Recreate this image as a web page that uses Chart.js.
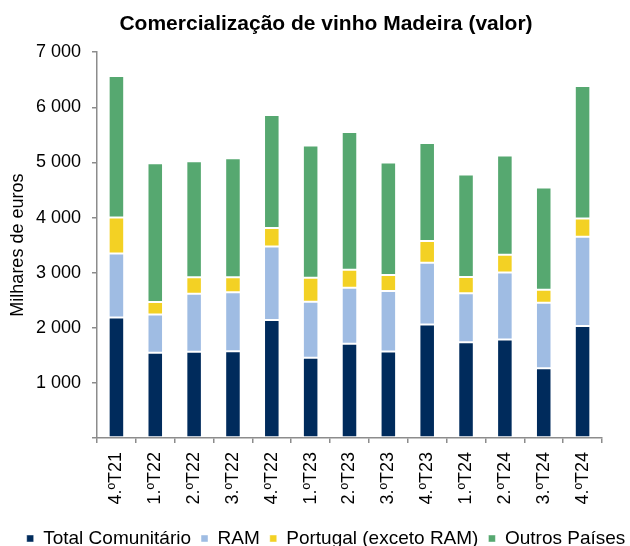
<!DOCTYPE html>
<html>
<head>
<meta charset="utf-8">
<script src="https://cdn.jsdelivr.net/npm/chart.js@4"></script>
<style>
  html, body { margin: 0; padding: 0; background: #fff; }
  #wrap { width: 630px; height: 546px; }
</style>
</head>
<body>
<div id="wrap"><canvas id="grafico" width="630" height="546"></canvas></div>
<script>
// trimestres
const trimestres = ["4.ºT21", "1.ºT22", "2.ºT22", "3.ºT22", "4.ºT22", "1.ºT23", "2.ºT23",
  "3.ºT23", "4.ºT23", "1.ºT24", "2.ºT24", "3.ºT24", "4.ºT24"];

// valores em milhares de euros
const totalComunitario = [2185, 1545, 1563, 1575, 2142, 1454, 1708, 1569, 2058, 1738, 1786, 1267, 2034];
const ram = [1164, 694, 1056, 1068, 1334, 1020, 1020, 1098, 1122, 887, 1219, 1189, 1617];
const portugal = [652, 229, 296, 272, 332, 435, 326, 290, 393, 296, 320, 236, 332];
const outrosPaises = [2565, 2517, 2106, 2160, 2052, 2396, 2498, 2040, 1780, 1859, 1799, 1852, 2402];

// marcas do eixo y
const yMin = 0;
const yMax = 7000;
const yPasso = 1000;

const fonte = "'Liberation Sans', Arial, sans-serif";
const cinza = "#8c8c8c";

// 7000 -> "7 000"
const formatarMilhar = (v) =>
  v === 0 ? "" : String(v).replace(/\B(?=(\d{3})+(?!\d))/g, " ");

const serie = (label, data, cor) => ({
  label: label,
  data: data,
  backgroundColor: cor,
  borderColor: "rgba(255,255,255,0.45)",
  borderWidth: 1,
  borderSkipped: false,
  categoryPercentage: 1,
  barPercentage: 0.4,
});

new Chart(document.getElementById("grafico"), {
  type: "bar",
  data: {
    labels: trimestres,
    datasets: [
      serie("Total Comunitário", totalComunitario, "#002b5c"),
      serie("RAM", ram, "#9fbce3"),
      serie("Portugal (exceto RAM)", portugal, "#f3d124"),
      serie("Outros Países", outrosPaises, "#56a870"),
    ],
  },
  options: {
    responsive: false,
    animation: false,
    layout: { padding: { left: 0, right: -22, top: 0, bottom: -12 } },
    plugins: {
      title: {
        display: true,
        text: "Comercialização de vinho Madeira (valor)",
        color: "#000",
        font: { family: fonte, size: 21, weight: "bold" },
        padding: { top: 12, bottom: 15 },
      },
      legend: {
        position: "bottom",
        labels: {
          color: "#000",
          font: { family: fonte, size: 19 },
          boxWidth: 7,
          boxHeight: 7,
          padding: 10,
        },
      },
      tooltip: { enabled: false },
    },
    scales: {
      x: {
        stacked: true,
        grid: { display: true, drawOnChartArea: false, tickLength: 5, color: cinza, lineWidth: 1.5 },
        border: { color: cinza, width: 1.5 },
        ticks: {
          color: "#000",
          font: { family: fonte, size: 18 },
          minRotation: 90,
          maxRotation: 90,
          padding: 9,
        },
        afterFit: (s) => { s.height = 81; },
      },
      y: {
        stacked: true,
        min: yMin,
        max: yMax,
        grid: { display: true, drawOnChartArea: false, tickLength: 5, color: cinza, lineWidth: 1.5 },
        border: { color: cinza, width: 1.5 },
        ticks: {
          stepSize: yPasso,
          color: "#000",
          font: { family: fonte, size: 18 },
          padding: 11,
          callback: (v) => formatarMilhar(v),
        },
        title: {
          display: true,
          text: "Milhares de euros",
          color: "#000",
          font: { family: fonte, size: 18 },
          padding: { top: 7, bottom: 0 },
        },
        afterFit: (s) => { s.width = 97; },
      },
      // eixo vazio so para reservar a margem direita
      margem: {
        position: "right",
        display: true,
        grid: { display: false },
        border: { display: false },
        ticks: { display: false },
        afterFit: (s) => { s.width = 50; },
      },
    },
  },
});
</script>
</body>
</html>
